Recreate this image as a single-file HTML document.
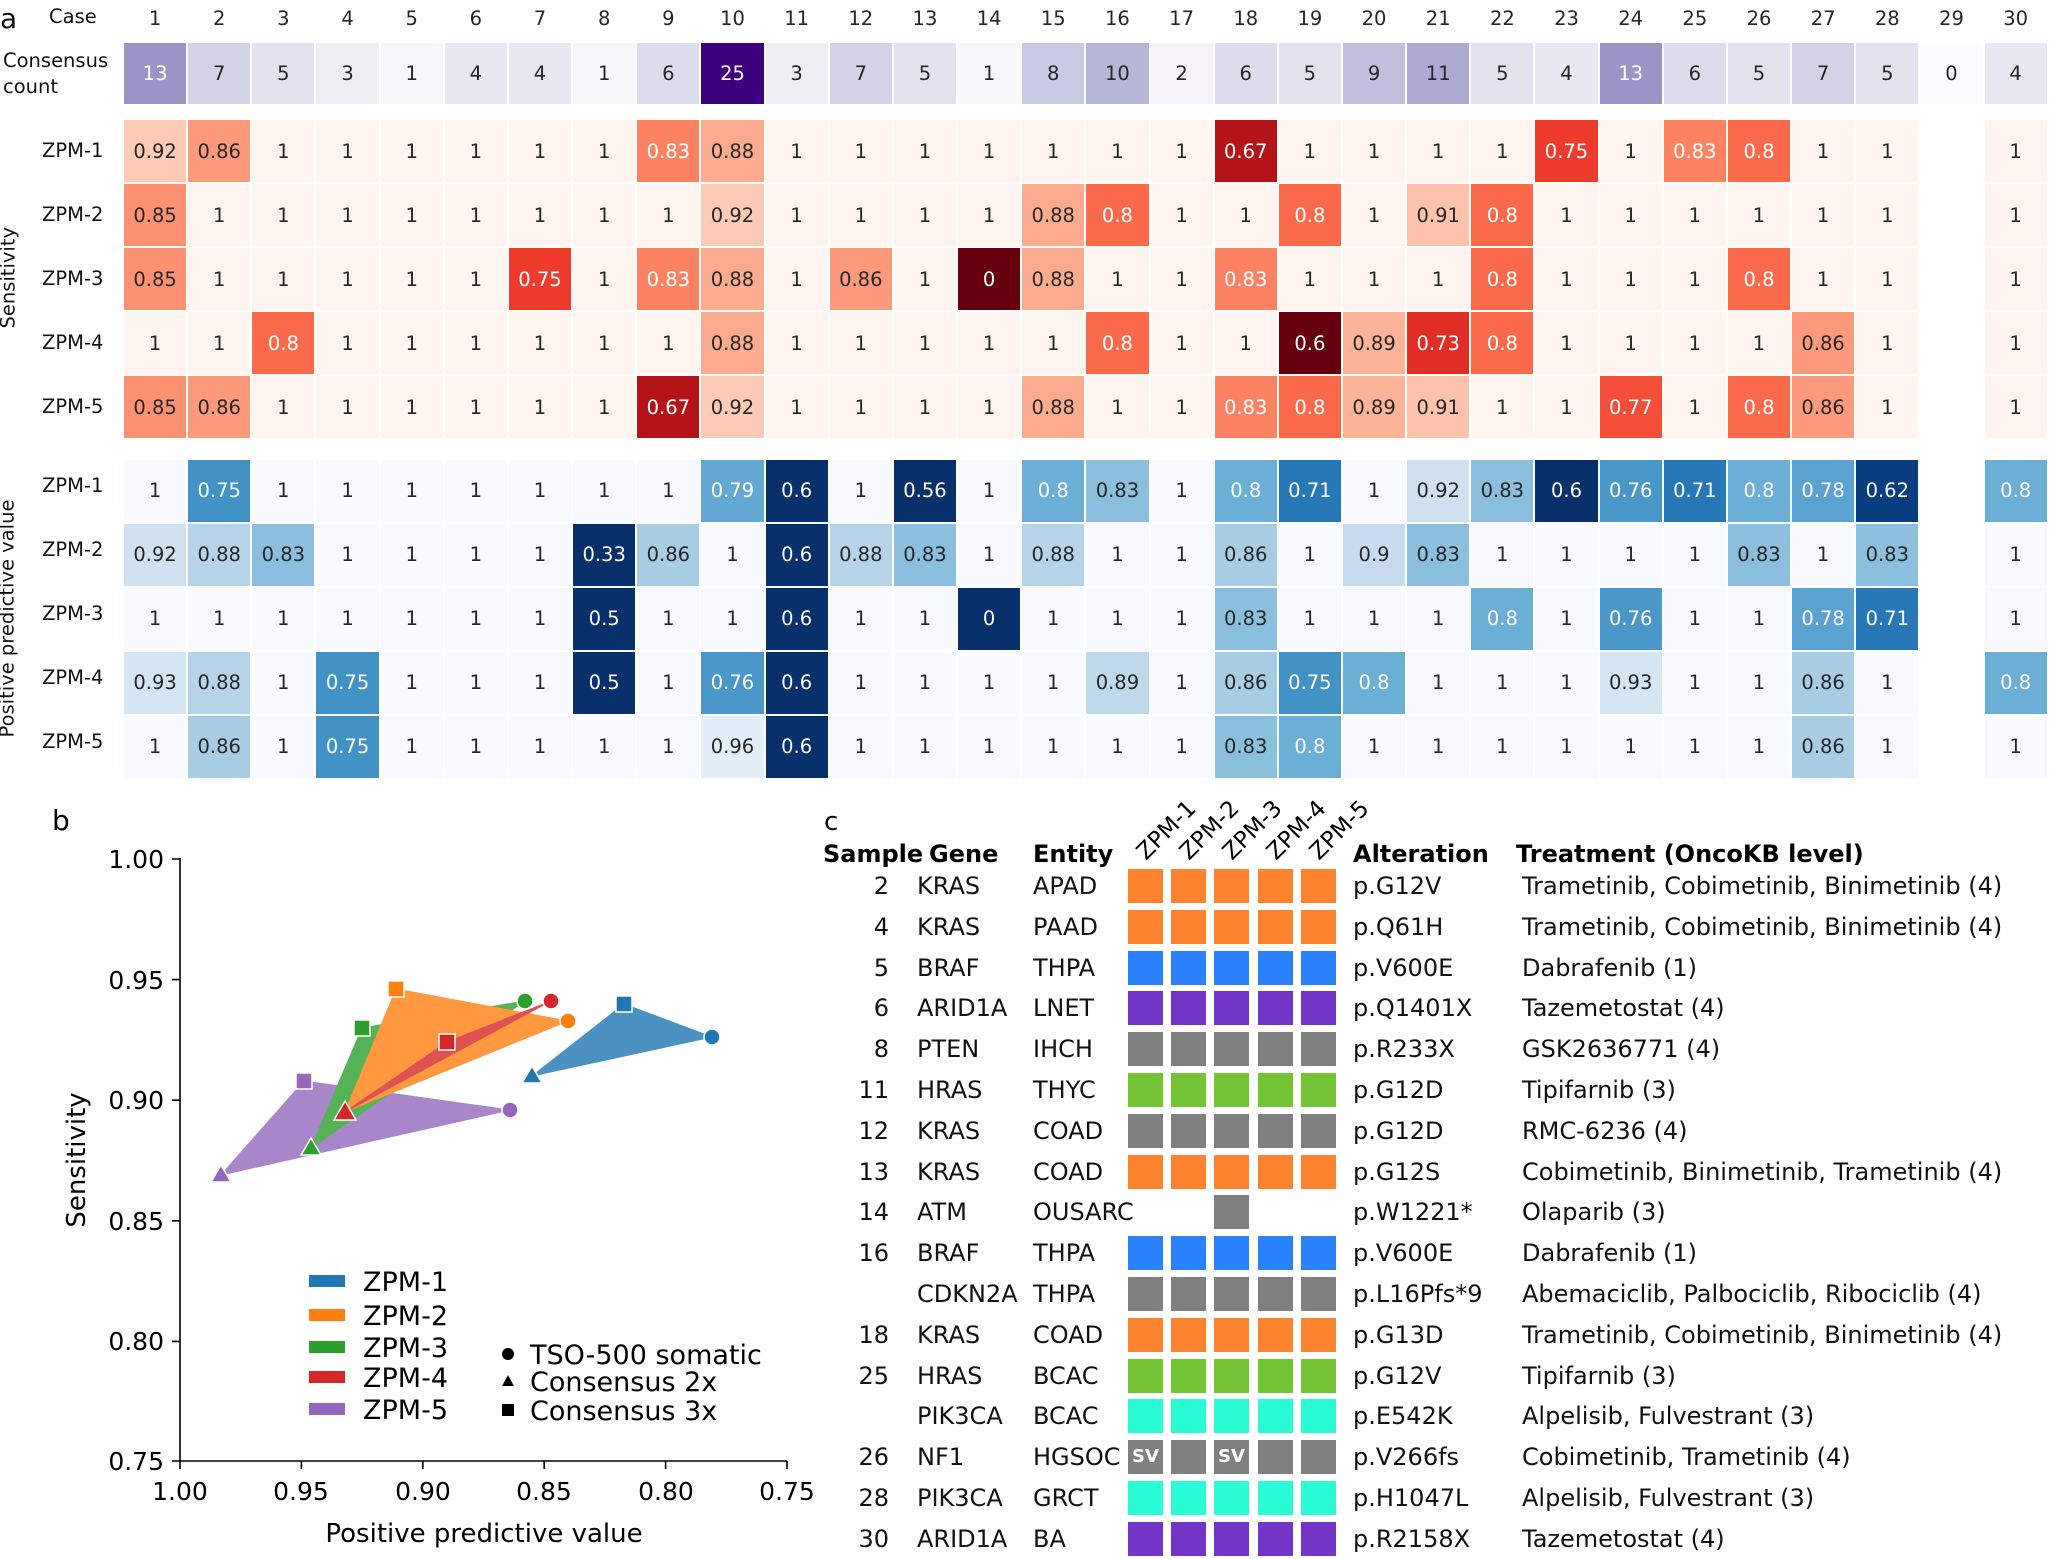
<!DOCTYPE html>
<html><head><meta charset="utf-8"><style>
*{margin:0;padding:0}
body{width:2050px;height:1554px;background:#fff;position:relative;overflow:hidden;font-family:"DejaVu Sans","Liberation Sans",sans-serif;color:#111}
.hr{position:absolute;left:123px;display:flex}
.hr div{width:64.17px;height:100%;box-sizing:border-box;border:1px solid #fff;display:flex;align-items:center;justify-content:center;font-size:19.5px;color:#262626}
.hd div{border:none}
.lab{position:absolute;font-size:19.5px;color:#111}
.w{color:#fff!important}
.a1{background:#fff5f0}.a92{background:#fdcab5}.a91{background:#fcc2ab}.a89{background:#fcb398}.a88{background:#fcab8e}.a86{background:#fc9a7b}.a85{background:#fc9272}.a83{background:#fc8262;color:#fff!important}.a80{background:#fb6a4a;color:#fff!important}.a77{background:#f44e38;color:#fff!important}.a75{background:#ef3b2c;color:#fff!important}.a73{background:#e12d26;color:#fff!important}.a67{background:#b41318;color:#fff!important}.a60{background:#67000d;color:#fff!important}
.b1{background:#f7fbff}.b96{background:#e3eef9}.b93{background:#d4e5f4}.b92{background:#d0e1f2}.b90{background:#c6dbef}.b89{background:#bed8ec}.b88{background:#b6d4e9}.b86{background:#a6cde4}.b83{background:#8abfdd}.b80{background:#6baed6;color:#fff!important}.b79{background:#63a8d3;color:#fff!important}.b78{background:#5ba3d0;color:#fff!important}.b76{background:#4a98c9;color:#fff!important}.b75{background:#4292c6;color:#fff!important}.b71{background:#2878b8;color:#fff!important}.b62{background:#083d7f;color:#fff!important}.b60{background:#08306b;color:#fff!important}
.p0{background:#fcfbfd}.p1{background:#f8f7fa}.p2{background:#f4f2f8}.p3{background:#f0eef5}.p4{background:#e9e8f2}.p5{background:#e2e2ef}.p6{background:#dcdcec}.p7{background:#d3d3e7}.p8{background:#c9cae3}.p9{background:#c0c0de}.p10{background:#b6b6d8}.p11{background:#acaad2}.p13{background:#9995c6;color:#fff!important}.p25{background:#3f007d;color:#fff!important}
.e{background:#fff}
.cr{position:absolute;left:0;width:2050px;height:40px;font-size:24px;line-height:40px;color:#111}
.cr span{position:absolute;white-space:nowrap}
.cr .n{right:1161px;text-align:right}
.cr .g{left:917px}.cr .en{left:1033px}.cr .al{left:1353px}.cr .tr{left:1522px}
.cr i{position:absolute;top:3px;width:35px;height:34px;font-style:normal;color:#fff;font-weight:bold;font-size:18px;line-height:34px;text-align:center}
.O{background:#fe832e}.B{background:#2a82fe}.P{background:#7335c8}.G{background:#808080}.L{background:#74c535}.C{background:#2afdd5}
.k1{left:1128px}.k2{left:1171px}.k3{left:1214px}.k4{left:1258px}.k5{left:1301px}
</style></head><body>
<div class="lab" style="left:0;top:2px;font-size:28px">a</div>
<div class="lab" style="left:49px;top:5px">Case</div>
<div class="hr hd" style="top:2px;height:32px"><div>1</div><div>2</div><div>3</div><div>4</div><div>5</div><div>6</div><div>7</div><div>8</div><div>9</div><div>10</div><div>11</div><div>12</div><div>13</div><div>14</div><div>15</div><div>16</div><div>17</div><div>18</div><div>19</div><div>20</div><div>21</div><div>22</div><div>23</div><div>24</div><div>25</div><div>26</div><div>27</div><div>28</div><div>29</div><div>30</div></div>
<div class="lab" style="left:3px;top:48px;line-height:26px">Consensus<br>count</div>
<div class="hr" style="top:42px;height:63px"><div class="p13">13</div><div class="p7">7</div><div class="p5">5</div><div class="p3">3</div><div class="p1">1</div><div class="p4">4</div><div class="p4">4</div><div class="p1">1</div><div class="p6">6</div><div class="p25">25</div><div class="p3">3</div><div class="p7">7</div><div class="p5">5</div><div class="p1">1</div><div class="p8">8</div><div class="p10">10</div><div class="p2">2</div><div class="p6">6</div><div class="p5">5</div><div class="p9">9</div><div class="p11">11</div><div class="p5">5</div><div class="p4">4</div><div class="p13">13</div><div class="p6">6</div><div class="p5">5</div><div class="p7">7</div><div class="p5">5</div><div class="p0">0</div><div class="p4">4</div></div>

<div class="lab" style="left:-42px;top:267px;transform:rotate(-90deg);width:100px;text-align:center">Sensitivity</div>
<div class="lab" style="left:-118px;top:607px;transform:rotate(-90deg);width:250px;text-align:center">Positive predictive value</div>

<div class="lab" style="left:42px;top:139px">ZPM-1</div>
<div class="lab" style="left:42px;top:203px">ZPM-2</div>
<div class="lab" style="left:42px;top:267px">ZPM-3</div>
<div class="lab" style="left:42px;top:331px">ZPM-4</div>
<div class="lab" style="left:42px;top:395px">ZPM-5</div>
<div class="lab" style="left:42px;top:474px">ZPM-1</div>
<div class="lab" style="left:42px;top:538px">ZPM-2</div>
<div class="lab" style="left:42px;top:602px">ZPM-3</div>
<div class="lab" style="left:42px;top:666px">ZPM-4</div>
<div class="lab" style="left:42px;top:730px">ZPM-5</div>

<div class="hr" style="top:119px;height:64.1px"><div class="a92">0.92</div><div class="a86">0.86</div><div class="a1">1</div><div class="a1">1</div><div class="a1">1</div><div class="a1">1</div><div class="a1">1</div><div class="a1">1</div><div class="a83">0.83</div><div class="a88">0.88</div><div class="a1">1</div><div class="a1">1</div><div class="a1">1</div><div class="a1">1</div><div class="a1">1</div><div class="a1">1</div><div class="a1">1</div><div class="a67">0.67</div><div class="a1">1</div><div class="a1">1</div><div class="a1">1</div><div class="a1">1</div><div class="a75">0.75</div><div class="a1">1</div><div class="a83">0.83</div><div class="a80">0.8</div><div class="a1">1</div><div class="a1">1</div><div class="e"></div><div class="a1">1</div></div>
<div class="hr" style="top:183.1px;height:64.1px"><div class="a85">0.85</div><div class="a1">1</div><div class="a1">1</div><div class="a1">1</div><div class="a1">1</div><div class="a1">1</div><div class="a1">1</div><div class="a1">1</div><div class="a1">1</div><div class="a92">0.92</div><div class="a1">1</div><div class="a1">1</div><div class="a1">1</div><div class="a1">1</div><div class="a88">0.88</div><div class="a80">0.8</div><div class="a1">1</div><div class="a1">1</div><div class="a80">0.8</div><div class="a1">1</div><div class="a91">0.91</div><div class="a80">0.8</div><div class="a1">1</div><div class="a1">1</div><div class="a1">1</div><div class="a1">1</div><div class="a1">1</div><div class="a1">1</div><div class="e"></div><div class="a1">1</div></div>
<div class="hr" style="top:247.2px;height:64.1px"><div class="a85">0.85</div><div class="a1">1</div><div class="a1">1</div><div class="a1">1</div><div class="a1">1</div><div class="a1">1</div><div class="a75">0.75</div><div class="a1">1</div><div class="a83">0.83</div><div class="a88">0.88</div><div class="a1">1</div><div class="a86">0.86</div><div class="a1">1</div><div class="a60">0</div><div class="a88">0.88</div><div class="a1">1</div><div class="a1">1</div><div class="a83">0.83</div><div class="a1">1</div><div class="a1">1</div><div class="a1">1</div><div class="a80">0.8</div><div class="a1">1</div><div class="a1">1</div><div class="a1">1</div><div class="a80">0.8</div><div class="a1">1</div><div class="a1">1</div><div class="e"></div><div class="a1">1</div></div>
<div class="hr" style="top:311.3px;height:64.1px"><div class="a1">1</div><div class="a1">1</div><div class="a80">0.8</div><div class="a1">1</div><div class="a1">1</div><div class="a1">1</div><div class="a1">1</div><div class="a1">1</div><div class="a1">1</div><div class="a88">0.88</div><div class="a1">1</div><div class="a1">1</div><div class="a1">1</div><div class="a1">1</div><div class="a1">1</div><div class="a80">0.8</div><div class="a1">1</div><div class="a1">1</div><div class="a60">0.6</div><div class="a89">0.89</div><div class="a73">0.73</div><div class="a80">0.8</div><div class="a1">1</div><div class="a1">1</div><div class="a1">1</div><div class="a1">1</div><div class="a86">0.86</div><div class="a1">1</div><div class="e"></div><div class="a1">1</div></div>
<div class="hr" style="top:375.4px;height:64.1px"><div class="a85">0.85</div><div class="a86">0.86</div><div class="a1">1</div><div class="a1">1</div><div class="a1">1</div><div class="a1">1</div><div class="a1">1</div><div class="a1">1</div><div class="a67">0.67</div><div class="a92">0.92</div><div class="a1">1</div><div class="a1">1</div><div class="a1">1</div><div class="a1">1</div><div class="a88">0.88</div><div class="a1">1</div><div class="a1">1</div><div class="a83">0.83</div><div class="a80">0.8</div><div class="a89">0.89</div><div class="a91">0.91</div><div class="a1">1</div><div class="a1">1</div><div class="a77">0.77</div><div class="a1">1</div><div class="a80">0.8</div><div class="a86">0.86</div><div class="a1">1</div><div class="e"></div><div class="a1">1</div></div>

<div class="hr" style="top:458.5px;height:64.1px"><div class="b1">1</div><div class="b75">0.75</div><div class="b1">1</div><div class="b1">1</div><div class="b1">1</div><div class="b1">1</div><div class="b1">1</div><div class="b1">1</div><div class="b1">1</div><div class="b79">0.79</div><div class="b60">0.6</div><div class="b1">1</div><div class="b60">0.56</div><div class="b1">1</div><div class="b80">0.8</div><div class="b83">0.83</div><div class="b1">1</div><div class="b80">0.8</div><div class="b71">0.71</div><div class="b1">1</div><div class="b92">0.92</div><div class="b83">0.83</div><div class="b60">0.6</div><div class="b76">0.76</div><div class="b71">0.71</div><div class="b80">0.8</div><div class="b78">0.78</div><div class="b62">0.62</div><div class="e"></div><div class="b80">0.8</div></div>
<div class="hr" style="top:522.6px;height:64.1px"><div class="b92">0.92</div><div class="b88">0.88</div><div class="b83">0.83</div><div class="b1">1</div><div class="b1">1</div><div class="b1">1</div><div class="b1">1</div><div class="b60">0.33</div><div class="b86">0.86</div><div class="b1">1</div><div class="b60">0.6</div><div class="b88">0.88</div><div class="b83">0.83</div><div class="b1">1</div><div class="b88">0.88</div><div class="b1">1</div><div class="b1">1</div><div class="b86">0.86</div><div class="b1">1</div><div class="b90">0.9</div><div class="b83">0.83</div><div class="b1">1</div><div class="b1">1</div><div class="b1">1</div><div class="b1">1</div><div class="b83">0.83</div><div class="b1">1</div><div class="b83">0.83</div><div class="e"></div><div class="b1">1</div></div>
<div class="hr" style="top:586.7px;height:64.1px"><div class="b1">1</div><div class="b1">1</div><div class="b1">1</div><div class="b1">1</div><div class="b1">1</div><div class="b1">1</div><div class="b1">1</div><div class="b60">0.5</div><div class="b1">1</div><div class="b1">1</div><div class="b60">0.6</div><div class="b1">1</div><div class="b1">1</div><div class="b60">0</div><div class="b1">1</div><div class="b1">1</div><div class="b1">1</div><div class="b83">0.83</div><div class="b1">1</div><div class="b1">1</div><div class="b1">1</div><div class="b80">0.8</div><div class="b1">1</div><div class="b76">0.76</div><div class="b1">1</div><div class="b1">1</div><div class="b78">0.78</div><div class="b71">0.71</div><div class="e"></div><div class="b1">1</div></div>
<div class="hr" style="top:650.8px;height:64.1px"><div class="b93">0.93</div><div class="b88">0.88</div><div class="b1">1</div><div class="b75">0.75</div><div class="b1">1</div><div class="b1">1</div><div class="b1">1</div><div class="b60">0.5</div><div class="b1">1</div><div class="b76">0.76</div><div class="b60">0.6</div><div class="b1">1</div><div class="b1">1</div><div class="b1">1</div><div class="b1">1</div><div class="b89">0.89</div><div class="b1">1</div><div class="b86">0.86</div><div class="b75">0.75</div><div class="b80">0.8</div><div class="b1">1</div><div class="b1">1</div><div class="b1">1</div><div class="b93">0.93</div><div class="b1">1</div><div class="b1">1</div><div class="b86">0.86</div><div class="b1">1</div><div class="e"></div><div class="b80">0.8</div></div>
<div class="hr" style="top:714.9px;height:64.1px"><div class="b1">1</div><div class="b86">0.86</div><div class="b1">1</div><div class="b75">0.75</div><div class="b1">1</div><div class="b1">1</div><div class="b1">1</div><div class="b1">1</div><div class="b1">1</div><div class="b96">0.96</div><div class="b60">0.6</div><div class="b1">1</div><div class="b1">1</div><div class="b1">1</div><div class="b1">1</div><div class="b1">1</div><div class="b1">1</div><div class="b83">0.83</div><div class="b80">0.8</div><div class="b1">1</div><div class="b1">1</div><div class="b1">1</div><div class="b1">1</div><div class="b1">1</div><div class="b1">1</div><div class="b1">1</div><div class="b86">0.86</div><div class="b1">1</div><div class="e"></div><div class="b1">1</div></div>

<svg style="position:absolute;left:0;top:0" width="2050" height="1554" font-family="DejaVu Sans, Liberation Sans, sans-serif">
<text x="52" y="830" font-size="28">b</text>
<g stroke="#000" stroke-width="1.6" fill="none">
<path d="M180 858V1461H787"/>
<path d="M172 859H180M172 979.6H180M172 1100.2H180M172 1220.8H180M172 1341.4H180M172 1461H180"/>
<path d="M180 1461V1469M301.4 1461V1469M422.8 1461V1469M544.2 1461V1469M665.6 1461V1469M787 1461V1469"/>
</g>
<g font-size="25" text-anchor="end" fill="#000">
<text x="164" y="868">1.00</text><text x="164" y="989">0.95</text><text x="164" y="1109">0.90</text><text x="164" y="1230">0.85</text><text x="164" y="1350">0.80</text><text x="164" y="1470">0.75</text>
</g>
<g font-size="25" text-anchor="middle" fill="#000">
<text x="180" y="1500">1.00</text><text x="301" y="1500">0.95</text><text x="423" y="1500">0.90</text><text x="544" y="1500">0.85</text><text x="666" y="1500">0.80</text><text x="787" y="1500">0.75</text>
</g>
<text x="484" y="1542" font-size="26" text-anchor="middle">Positive predictive value</text>
<text transform="translate(85,1160) rotate(-90)" font-size="26" text-anchor="middle">Sensitivity</text>
<g opacity="0.8">
<polygon points="304,1081 510,1110 221,1175" fill="#9467bd" stroke="#9467bd"/>
<polygon points="624,1004 712,1037 532,1076" fill="#1f77b4" stroke="#1f77b4"/>
<polygon points="362,1028 525,1001 311,1148" fill="#2ca02c" stroke="#2ca02c"/>
<polygon points="396,989 568,1021 345,1112" fill="#ff7f0e" stroke="#ff7f0e"/>
<polygon points="447,1042 551,1001 345,1112" fill="#d62728" stroke="#d62728"/>
</g>
<g stroke="#fff" stroke-width="1.5">
<rect x="616" y="996" width="16" height="16" fill="#1f77b4"/><circle cx="712" cy="1037" r="8" fill="#1f77b4"/><polygon points="532,1066 542,1083 522,1083" fill="#1f77b4"/>
<rect x="388" y="981" width="16" height="16" fill="#ff7f0e"/><circle cx="568" cy="1021" r="8" fill="#ff7f0e"/>
<rect x="354" y="1020" width="16" height="16" fill="#2ca02c"/><circle cx="525" cy="1001" r="8" fill="#2ca02c"/><polygon points="311,1138 321,1155 301,1155" fill="#2ca02c"/>
<rect x="439" y="1034" width="16" height="16" fill="#d62728"/><circle cx="551" cy="1001" r="8" fill="#d62728"/><polygon points="345,1101 356,1120 334,1120" fill="#d62728"/>
<rect x="296" y="1073" width="16" height="16" fill="#9467bd"/><circle cx="510" cy="1110" r="8" fill="#9467bd"/><polygon points="221,1165 231,1182 211,1182" fill="#9467bd"/>
</g>
<rect x="309" y="1275" width="36" height="12" fill="#1f77b4"/>
<rect x="309" y="1309" width="36" height="12" fill="#ff7f0e"/>
<rect x="309" y="1341" width="36" height="12" fill="#2ca02c"/>
<rect x="309" y="1371" width="36" height="12" fill="#d62728"/>
<rect x="309" y="1403" width="36" height="12" fill="#9467bd"/>
<g font-size="27" fill="#000">
<text x="363" y="1291">ZPM-1</text><text x="363" y="1325">ZPM-2</text><text x="363" y="1357">ZPM-3</text><text x="363" y="1387">ZPM-4</text><text x="363" y="1419">ZPM-5</text>
<text x="530" y="1364">TSO-500 somatic</text><text x="530" y="1391">Consensus 2x</text><text x="530" y="1420">Consensus 3x</text>
</g>
<circle cx="508" cy="1354" r="6" fill="#000"/>
<polygon points="508,1375 514,1386 502,1386" fill="#000"/>
<rect x="502" y="1404" width="12" height="12" fill="#000"/>

<text x="824" y="830" font-size="26">c</text>
<g font-size="24" font-weight="bold" fill="#000">
<text x="823" y="862">Sample</text><text x="929" y="862">Gene</text><text x="1033" y="862">Entity</text><text x="1353" y="862">Alteration</text><text x="1516" y="862">Treatment (OncoKB level)</text>
</g>
<g font-size="23" fill="#000">
<text transform="translate(1146,861) rotate(-45)">ZPM-1</text>
<text transform="translate(1189,861) rotate(-45)">ZPM-2</text>
<text transform="translate(1232,861) rotate(-45)">ZPM-3</text>
<text transform="translate(1276,861) rotate(-45)">ZPM-4</text>
<text transform="translate(1319,861) rotate(-45)">ZPM-5</text>
</g>
</svg>

<div class="cr" style="top:866px"><span class="n">2</span><span class="g">KRAS</span><span class="en">APAD</span><i class="O k1"></i><i class="O k2"></i><i class="O k3"></i><i class="O k4"></i><i class="O k5"></i><span class="al">p.G12V</span><span class="tr">Trametinib, Cobimetinib, Binimetinib (4)</span></div>
<div class="cr" style="top:906.8px"><span class="n">4</span><span class="g">KRAS</span><span class="en">PAAD</span><i class="O k1"></i><i class="O k2"></i><i class="O k3"></i><i class="O k4"></i><i class="O k5"></i><span class="al">p.Q61H</span><span class="tr">Trametinib, Cobimetinib, Binimetinib (4)</span></div>
<div class="cr" style="top:947.6px"><span class="n">5</span><span class="g">BRAF</span><span class="en">THPA</span><i class="B k1"></i><i class="B k2"></i><i class="B k3"></i><i class="B k4"></i><i class="B k5"></i><span class="al">p.V600E</span><span class="tr">Dabrafenib (1)</span></div>
<div class="cr" style="top:988.4px"><span class="n">6</span><span class="g">ARID1A</span><span class="en">LNET</span><i class="P k1"></i><i class="P k2"></i><i class="P k3"></i><i class="P k4"></i><i class="P k5"></i><span class="al">p.Q1401X</span><span class="tr">Tazemetostat (4)</span></div>
<div class="cr" style="top:1029.2px"><span class="n">8</span><span class="g">PTEN</span><span class="en">IHCH</span><i class="G k1"></i><i class="G k2"></i><i class="G k3"></i><i class="G k4"></i><i class="G k5"></i><span class="al">p.R233X</span><span class="tr">GSK2636771 (4)</span></div>
<div class="cr" style="top:1070px"><span class="n">11</span><span class="g">HRAS</span><span class="en">THYC</span><i class="L k1"></i><i class="L k2"></i><i class="L k3"></i><i class="L k4"></i><i class="L k5"></i><span class="al">p.G12D</span><span class="tr">Tipifarnib (3)</span></div>
<div class="cr" style="top:1110.8px"><span class="n">12</span><span class="g">KRAS</span><span class="en">COAD</span><i class="G k1"></i><i class="G k2"></i><i class="G k3"></i><i class="G k4"></i><i class="G k5"></i><span class="al">p.G12D</span><span class="tr">RMC-6236 (4)</span></div>
<div class="cr" style="top:1151.6px"><span class="n">13</span><span class="g">KRAS</span><span class="en">COAD</span><i class="O k1"></i><i class="O k2"></i><i class="O k3"></i><i class="O k4"></i><i class="O k5"></i><span class="al">p.G12S</span><span class="tr">Cobimetinib, Binimetinib, Trametinib (4)</span></div>
<div class="cr" style="top:1192.4px"><span class="n">14</span><span class="g">ATM</span><span class="en">OUSARC</span><i class="G k3"></i><span class="al">p.W1221*</span><span class="tr">Olaparib (3)</span></div>
<div class="cr" style="top:1233.2px"><span class="n">16</span><span class="g">BRAF</span><span class="en">THPA</span><i class="B k1"></i><i class="B k2"></i><i class="B k3"></i><i class="B k4"></i><i class="B k5"></i><span class="al">p.V600E</span><span class="tr">Dabrafenib (1)</span></div>
<div class="cr" style="top:1274px"><span class="g">CDKN2A</span><span class="en">THPA</span><i class="G k1"></i><i class="G k2"></i><i class="G k3"></i><i class="G k4"></i><i class="G k5"></i><span class="al">p.L16Pfs*9</span><span class="tr">Abemaciclib, Palbociclib, Ribociclib (4)</span></div>
<div class="cr" style="top:1314.8px"><span class="n">18</span><span class="g">KRAS</span><span class="en">COAD</span><i class="O k1"></i><i class="O k2"></i><i class="O k3"></i><i class="O k4"></i><i class="O k5"></i><span class="al">p.G13D</span><span class="tr">Trametinib, Cobimetinib, Binimetinib (4)</span></div>
<div class="cr" style="top:1355.6px"><span class="n">25</span><span class="g">HRAS</span><span class="en">BCAC</span><i class="L k1"></i><i class="L k2"></i><i class="L k3"></i><i class="L k4"></i><i class="L k5"></i><span class="al">p.G12V</span><span class="tr">Tipifarnib (3)</span></div>
<div class="cr" style="top:1396.4px"><span class="g">PIK3CA</span><span class="en">BCAC</span><i class="C k1"></i><i class="C k2"></i><i class="C k3"></i><i class="C k4"></i><i class="C k5"></i><span class="al">p.E542K</span><span class="tr">Alpelisib, Fulvestrant (3)</span></div>
<div class="cr" style="top:1437.2px"><span class="n">26</span><span class="g">NF1</span><span class="en">HGSOC</span><i class="G k1">SV</i><i class="G k2"></i><i class="G k3">SV</i><i class="G k4"></i><i class="G k5"></i><span class="al">p.V266fs</span><span class="tr">Cobimetinib, Trametinib (4)</span></div>
<div class="cr" style="top:1478px"><span class="n">28</span><span class="g">PIK3CA</span><span class="en">GRCT</span><i class="C k1"></i><i class="C k2"></i><i class="C k3"></i><i class="C k4"></i><i class="C k5"></i><span class="al">p.H1047L</span><span class="tr">Alpelisib, Fulvestrant (3)</span></div>
<div class="cr" style="top:1518.8px"><span class="n">30</span><span class="g">ARID1A</span><span class="en">BA</span><i class="P k1"></i><i class="P k2"></i><i class="P k3"></i><i class="P k4"></i><i class="P k5"></i><span class="al">p.R2158X</span><span class="tr">Tazemetostat (4)</span></div>
</body></html>
